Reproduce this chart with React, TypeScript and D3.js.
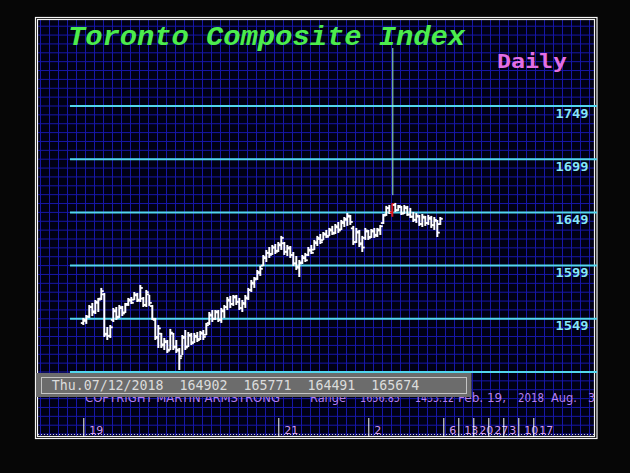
import React, { useEffect } from 'react';
import * as d3 from 'd3';

const W = 630;
const H = 473;

// Daily OHLC, Feb 19 2018 .. Aug 3 2018 (index 0..119), in index points / 10
const opens = [
  1545, 1547, 1551, 1560, 1556, 1564, 1568, 1572, 1535, 1533,
  1548, 1556, 1551, 1559, 1555, 1563, 1566, 1567, 1571, 1567,
  1568, 1562, 1572, 1561, 1548, 1532, 1535, 1525, 1527, 1520,
  1535, 1523, 1519, 1514, 1532, 1523, 1533, 1527, 1532, 1530,
  1535, 1534, 1545, 1552, 1549, 1555, 1548, 1556, 1560, 1566,
  1563, 1569, 1565, 1559, 1563, 1568, 1576, 1582, 1587, 1592,
  1599, 1606, 1611, 1610, 1616, 1613, 1618, 1620, 1612, 1615,
  1609, 1601, 1597, 1602, 1606, 1609, 1613, 1614, 1620, 1624,
  1623, 1628, 1627, 1632, 1630, 1635, 1633, 1639, 1642, 1645,
  1634, 1621, 1630, 1620, 1625, 1631, 1626, 1631, 1628, 1632,
  1639, 1647, 1653, 1649.02, 1656, 1651, 1654, 1648, 1653, 1647,
  1645, 1642, 1645, 1638, 1644, 1639, 1643, 1637, 1641, 1638,
];
const highs = [
  1549.8, 1552.6, 1562.0, 1563.9, 1566.7, 1568.6, 1578.0, 1573.3, 1541.3, 1543.2,
  1559.2, 1560.1, 1562.0, 1561.1, 1563.9, 1568.6, 1569.5, 1574.2, 1573.3, 1580.8,
  1569.5, 1576.1, 1571.4, 1562.0, 1549.8, 1543.2, 1535.7, 1531.0, 1529.1, 1539.5,
  1535.7, 1529.1, 1521.6, 1533.8, 1538.5, 1536.6, 1535.7, 1535.7, 1536.6, 1537.6,
  1538.5, 1545.1, 1555.4, 1557.3, 1557.3, 1557.3, 1559.2, 1562.0, 1569.5, 1570.5,
  1571.4, 1571.4, 1568.6, 1566.7, 1571.4, 1578.0, 1585.5, 1588.3, 1594.9, 1598.7,
  1609.0, 1613.7, 1616.5, 1618.4, 1619.3, 1621.2, 1626.9, 1621.2, 1618.4, 1617.4,
  1611.8, 1608.0, 1604.3, 1609.0, 1610.9, 1616.5, 1618.4, 1623.1, 1626.9, 1628.7,
  1630.6, 1632.5, 1634.4, 1636.3, 1638.1, 1640.0, 1641.9, 1644.7, 1648.5, 1646.6,
  1636.3, 1634.4, 1632.5, 1626.9, 1634.4, 1632.5, 1633.4, 1634.4, 1634.4, 1637.2,
  1647.5, 1655.1, 1656.0, 1657.71, 1657.9, 1656.0, 1655.1, 1656.0, 1655.1, 1653.2,
  1649.4, 1648.5, 1646.6, 1647.5, 1645.7, 1646.6, 1645.7, 1644.7, 1641.9, 1644.7,
];
const lows = [
  1543.2, 1544.2, 1549.8, 1551.6, 1553.5, 1555.4, 1566.7, 1531.9, 1529.1, 1531.0,
  1546.0, 1547.9, 1549.8, 1551.6, 1554.5, 1561.1, 1562.9, 1566.7, 1564.8, 1564.8,
  1560.1, 1560.1, 1561.1, 1547.9, 1529.1, 1521.6, 1521.6, 1519.7, 1516.9, 1519.7,
  1519.7, 1516.9, 1500.9, 1515.0, 1519.7, 1522.5, 1524.4, 1526.3, 1527.2, 1529.1,
  1529.1, 1533.8, 1543.2, 1546.0, 1547.9, 1546.0, 1545.1, 1549.8, 1557.3, 1559.2,
  1561.1, 1562.0, 1557.3, 1555.4, 1559.2, 1566.7, 1574.2, 1578.0, 1585.5, 1589.3,
  1598.7, 1602.4, 1606.2, 1609.0, 1609.9, 1611.8, 1613.7, 1609.0, 1608.0, 1606.2,
  1598.7, 1594.9, 1588.3, 1600.5, 1602.4, 1608.0, 1609.9, 1613.7, 1617.4, 1619.3,
  1623.1, 1625.0, 1626.9, 1627.8, 1628.7, 1629.7, 1632.5, 1635.3, 1636.3, 1637.2,
  1618.4, 1620.3, 1616.5, 1611.8, 1623.1, 1623.1, 1625.0, 1625.0, 1625.9, 1627.8,
  1638.1, 1645.7, 1647.5, 1644.91, 1649.4, 1650.4, 1646.6, 1647.5, 1645.7, 1643.8,
  1640.0, 1639.1, 1636.3, 1635.3, 1636.3, 1637.2, 1634.4, 1632.5, 1625.9, 1637.2,
];
const closes = [
  1548, 1551, 1560, 1555, 1565, 1567, 1575, 1534, 1533, 1541,
  1557, 1550, 1560, 1554, 1562, 1567, 1564, 1572, 1566, 1578,
  1562, 1574, 1564, 1549, 1531, 1540, 1524, 1528, 1519, 1536,
  1522, 1520, 1512, 1531, 1522, 1534, 1526, 1533, 1529, 1536,
  1532, 1543, 1553, 1549, 1556, 1548, 1557, 1560, 1567, 1563,
  1570, 1565, 1559, 1564, 1569, 1576, 1583, 1586, 1593, 1596,
  1607, 1611, 1609, 1616, 1612, 1619, 1625, 1612, 1616, 1609,
  1601, 1598, 1601, 1607, 1604, 1614, 1611, 1621, 1625, 1621,
  1629, 1626, 1633, 1629, 1636, 1632, 1640, 1643, 1646, 1640,
  1621, 1631, 1619, 1616, 1632, 1625, 1632, 1627, 1633, 1636,
  1646, 1653, 1649, 1656.74, 1651, 1655, 1648, 1654, 1647, 1645,
  1642, 1646, 1638, 1645, 1639, 1644, 1637, 1642, 1630, 1643,
];

const lineLevels = [1499, 1549, 1599, 1649, 1699, 1749];
const labelLevels = [1549, 1599, 1649, 1699, 1749];
const tickIdx = [0, 65, 95, 120, 125, 130, 135, 140, 145, 150];
const tickLabels = ['19', '21', '2', '6', '13', '20', '27', '3', '10', '17'];
const cursorIdx = 103;
const titleText = 'Toronto Composite Index';
const periodText = 'Daily';
const infoText = 'Thu.07/12/2018  164902  165771  164491  165674';
const footerParts = [
  { t: 'COPYRIGHT MARTIN ARMSTRONG', x: 85, len: 195 },
  { t: 'Range', x: 310, len: 36 },
  { t: '1656.85', x: 360, len: 40 },
  { t: '1433.12', x: 415, len: 39 },
  { t: 'Feb. 19,', x: 458, len: 48 },
  { t: '2018', x: 518, len: 26 },
  { t: 'Aug.', x: 551, len: 26 },
  { t: '3', x: 588, len: 7 },
];

export default function App() {
  useEffect(() => {
    document.body.style.margin = '0';
    document.body.style.background = '#060606';
  }, []);

  const x = d3.scaleLinear().domain([0, 150]).range([83.3, 533.3]);
  const y = d3.scaleLinear().domain([1499, 1749]).range([372, 106]);

  const inL = 38, inR = 595, inT = 20, inB = 436;
  const gridH = d3.range(-7, 40).map((k) => y(1499 + (k * 50) / 6)).filter((v) => v > inT && v < inB);
  const gridV = d3.range(-5, 57).map((k) => 85 + 9 * k).filter((v) => v > inL && v < inR);

  const bars = opens.map((o, i) => ({ i, o, h: highs[i], l: lows[i], c: closes[i] }));

  return (
    <svg width={W} height={H} style={{ position: 'absolute', left: 0, top: 0, display: 'block' }}>
      <rect x={0} y={0} width={W} height={H} fill="#060606" />
      {/* panel */}
      <rect x={inL} y={inT} width={inR - inL} height={inB - inT} fill="#000014" />
      <g stroke="#1616a8" strokeWidth={1}>
        {gridH.map((v, k) => (
          <line key={'h' + k} x1={inL} x2={inR} y1={v} y2={v} />
        ))}
        {gridV.map((v, k) => (
          <line key={'v' + k} x1={v + 0.5} x2={v + 0.5} y1={inT} y2={inB} />
        ))}
      </g>
      {/* frame */}
      <rect x={35.5} y={17.5} width={561.5} height={421} fill="none" stroke="#f4f4f4" strokeWidth={1.2} />
      <rect x={37.5} y={19.5} width={557} height={417} fill="none" stroke="#f4f4f4" strokeWidth={1.2} />

      {/* title */}
      <text x={68} y={45} fill="#4cec4c" fontFamily="Liberation Mono" fontWeight="bold" fontStyle="italic" fontSize={27} textLength={397} lengthAdjust="spacingAndGlyphs">
        {titleText}
      </text>
      <text x={497} y={68} fill="#e46ee4" fontFamily="DejaVu Sans Mono" fontWeight="bold" fontSize={20} textLength={70} lengthAdjust="spacingAndGlyphs">
        {periodText}
      </text>

      {/* price lines */}
      {lineLevels.map((p) => (
        <line key={'l' + p} x1={70} x2={597} y1={y(p)} y2={y(p)} stroke="#52d6ee" strokeWidth={2} />
      ))}
      {labelLevels.map((p) => (
        <text key={'t' + p} x={588.5} y={y(p) + 11.5} textAnchor="end" fill="#86e6fa" fontFamily="DejaVu Sans Mono" fontWeight="bold" fontSize={12.5} textLength={33} lengthAdjust="spacingAndGlyphs">
          {String(p)}
        </text>
      ))}

      {/* cursor line */}
      <line x1={x(cursorIdx) + 0.5} x2={x(cursorIdx) + 0.5} y1={48} y2={y(highs[cursorIdx]) - 8} stroke="#9ef0c8" strokeWidth={1} />

      {/* OHLC bars */}
      <g>
        {bars.map((b) => {
          const col = b.i === cursorIdx ? '#e01818' : '#ffffff';
          const cx = x(b.i);
          return (
            <g key={b.i} stroke={col}>
              <line x1={cx} x2={cx} y1={y(b.h)} y2={y(b.l)} strokeWidth={2} />
              <line x1={cx - 2.5} x2={cx} y1={y(b.o)} y2={y(b.o)} strokeWidth={1.8} />
              <line x1={cx} x2={cx + 2.5} y1={y(b.c)} y2={y(b.c)} strokeWidth={1.8} />
            </g>
          );
        })}
      </g>

      {/* footer copyright line (partially hidden by info box) */}
      {footerParts.map((f) => (
        <text key={f.t} x={f.x} y={402} fill="#b47ef0" fontFamily="DejaVu Sans" fontSize={11.5} textLength={f.len} lengthAdjust="spacingAndGlyphs">
          {f.t}
        </text>
      ))}

      {/* info box */}
      <rect x={36} y={373} width={435.5} height={24} fill="#6c6c6c" />
      <rect x={41.5} y={377.5} width={425} height={16} fill="none" stroke="#c4c4c4" strokeWidth={1} />
      <text x={51.7} y={390} fill="#dcdcdc" fontFamily="DejaVu Sans Mono" fontSize={13.5} textLength={367.6} lengthAdjust="spacingAndGlyphs" xmlSpace="preserve" style={{ whiteSpace: 'pre' }}>
        {infoText}
      </text>

      {/* bottom time axis */}
      <line x1={inL} x2={inR} y1={434.5} y2={434.5} stroke="#d0d0d0" strokeWidth={1} strokeDasharray="1,2" />
      {tickIdx.map((t, k) => (
        <g key={'x' + k}>
          <line x1={x(t) + 0.5} x2={x(t) + 0.5} y1={418} y2={437} stroke="#ffffff" strokeWidth={1} />
          <text x={x(t) + 6} y={434} fill="#d49af2" fontFamily="DejaVu Sans" fontSize={11}>
            {tickLabels[k]}
          </text>
        </g>
      ))}
    </svg>
  );
}
